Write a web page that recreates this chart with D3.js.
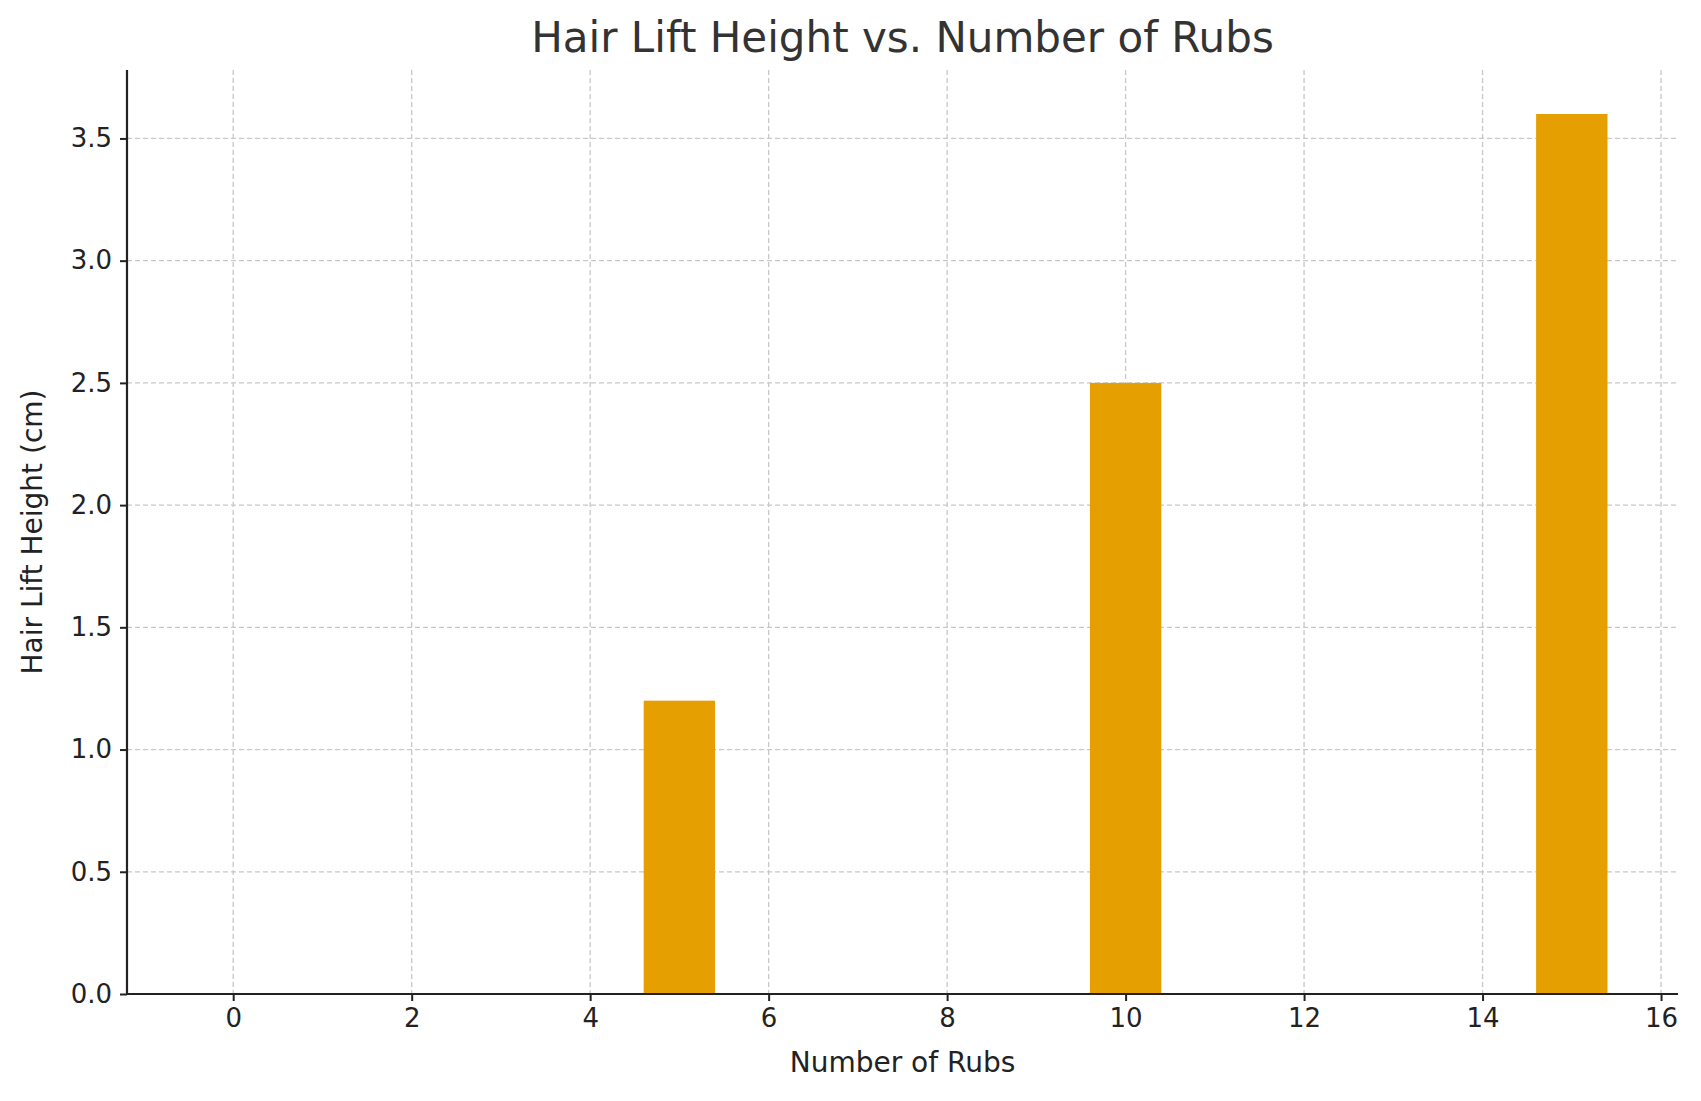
<!DOCTYPE html>
<html>
<head>
<meta charset="utf-8">
<script src="https://cdn.jsdelivr.net/npm/d3@7"></script>
<style>
  body { margin: 0; background: #fff; }
  text { font-family: "DejaVu Sans", sans-serif; }
</style>
</head>
<body>
<div class="chart"></div>
<script>
// chart data
var rubs = [0, 5, 10, 15];
var liftHeights = [0, 1.2, 2.5, 3.6];
var xTicks = [0, 2, 4, 6, 8, 10, 12, 14, 16];
var yTicks = [0, 0.5, 1.0, 1.5, 2.0, 2.5, 3.0, 3.5];

var svgWidth = 1701, svgHeight = 1101;
var margin = { top: 70, right: 23, bottom: 107, left: 127 };
var width = svgWidth - margin.left - margin.right;
var height = svgHeight - margin.top - margin.bottom;

var svg = d3.select(".chart").append("svg")
  .attr("width", svgWidth)
  .attr("height", svgHeight);

var chartGroup = svg.append("g")
  .attr("transform", `translate(${margin.left}, ${margin.top})`);

var barWidth = 0.8;
var x = d3.scaleLinear().domain([-1.19, 16.19]).range([0, width]);
var y = d3.scaleLinear().domain([0, 3.78]).range([height, 0]);

// grid
chartGroup.append("g").selectAll("line").data(xTicks).enter().append("line")
  .attr("x1", d => x(d)).attr("x2", d => x(d))
  .attr("y1", 0).attr("y2", height)
  .attr("stroke", "#c8c8c8").attr("stroke-width", 1.3).attr("stroke-dasharray", "5,3");
chartGroup.append("g").selectAll("line").data(yTicks).enter().append("line")
  .attr("x1", 0).attr("x2", width)
  .attr("y1", d => y(d)).attr("y2", d => y(d))
  .attr("stroke", "#c8c8c8").attr("stroke-width", 1.3).attr("stroke-dasharray", "5,3");

// bars
chartGroup.append("g").selectAll("rect").data(rubs).enter().append("rect")
  .attr("x", d => x(d - barWidth / 2))
  .attr("width", x(barWidth) - x(0))
  .attr("y", (d, i) => y(liftHeights[i]))
  .attr("height", (d, i) => height - y(liftHeights[i]))
  .attr("fill", "#e69f00");

// axes
var bottomAxis = d3.axisBottom(x).tickValues(xTicks).tickSize(7).tickPadding(8).tickFormat(d3.format("d"));
var leftAxis = d3.axisLeft(y).tickValues(yTicks).tickSize(7).tickPadding(8).tickFormat(d3.format(".1f"));

var xAxis = chartGroup.append("g")
  .attr("transform", `translate(0, ${height})`)
  .call(bottomAxis);
var yAxis = chartGroup.append("g").call(leftAxis);

[xAxis, yAxis].forEach(function(a) {
  a.select(".domain").attr("stroke", "#222").attr("stroke-width", 2.2);
  a.selectAll(".tick line").attr("stroke", "#222").attr("stroke-width", 2);
  a.selectAll(".tick text").attr("font-size", 26).attr("fill", "#222")
    .attr("font-family", "DejaVu Sans");
});
// matplotlib spines: only left and bottom, domain without outer ticks
xAxis.select(".domain").attr("d", `M0,0H${width}`);
yAxis.select(".domain").attr("d", `M0,0V${height}`);

// title and labels
svg.append("text")
  .attr("x", margin.left + width / 2).attr("y", 52)
  .attr("text-anchor", "middle").attr("font-size", 42).attr("fill", "#333")
  .text("Hair Lift Height vs. Number of Rubs");

svg.append("text")
  .attr("x", margin.left + width / 2).attr("y", 1072)
  .attr("text-anchor", "middle").attr("font-size", 28).attr("fill", "#222")
  .text("Number of Rubs");

svg.append("text")
  .attr("transform", "rotate(-90)")
  .attr("x", -(margin.top + height / 2)).attr("y", 42)
  .attr("text-anchor", "middle").attr("font-size", 28).attr("fill", "#222")
  .text("Hair Lift Height (cm)");
</script>
</body>
</html>
